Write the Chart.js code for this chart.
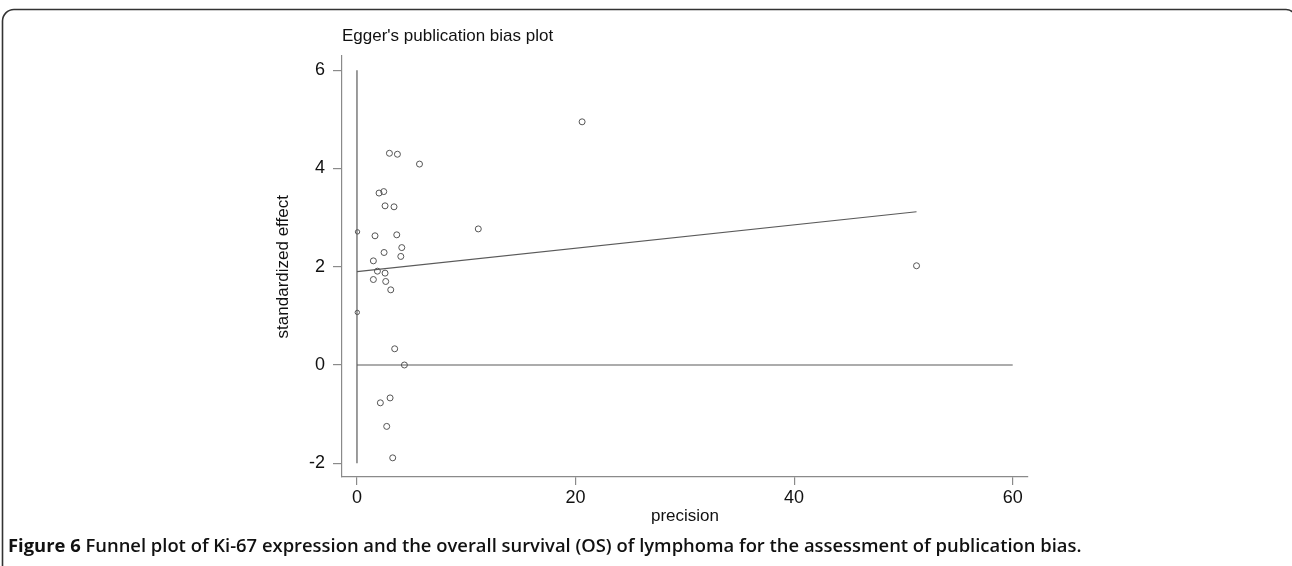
<!DOCTYPE html>
<html>
<head>
  <meta charset="UTF-8">
  <title>Egger's publication bias plot</title>
  <script src="https://cdn.jsdelivr.net/npm/chart.js"></script>
  <style>
    html, body { margin: 0; padding: 0; background: #fff; }
    #wrap { position: relative; width: 1292px; height: 566px; }
  </style>
</head>
<body>
<div id="wrap"><canvas id="eggerChart" width="1292" height="566"></canvas></div>
<script>
    // studies: precision (x) vs standardized effect (y)
    var precision = [2.97, 3.70, 5.72, 2.02, 2.45, 2.57, 3.39, 1.65, 3.64, 4.10,
                     2.48, 4.01, 1.50, 1.87, 2.57, 1.50, 2.63, 3.09, 3.45, 4.34,
                     3.03, 2.14, 2.72, 3.27, 11.1, 20.6, 51.2];
    var stdEffect = [4.31, 4.29, 4.09, 3.50, 3.53, 3.24, 3.22, 2.63, 2.65, 2.39,
                     2.29, 2.21, 2.12, 1.91, 1.87, 1.74, 1.70, 1.53, 0.33, 0.00,
                     -0.67, -0.77, -1.25, -1.89, 2.77, 4.95, 2.02];
    // the two points drawn on the y axis (smaller markers)
    var axisPrecision = [0.05, 0.03];
    var axisEffect = [2.71, 1.07];
    // Egger regression line
    var fitX = [0, 51.2];
    var fitY = [1.90, 3.12];
    // reference lines
    var vlineY = [-2, 6];
    var hlineX = [0, 60];

    var xTicks = [0, 20, 40, 60];
    var yTicks = [-2, 0, 2, 4, 6];

    function pairs(xs, ys) {
        var out = [];
        for (var i = 0; i < xs.length; i++) out.push({x: xs[i], y: ys[i]});
        return out;
    }

    var lineGrey = '#5a5a5a';
    var axisGrey = '#8a8a8a';
    var font = '"Liberation Sans", Arial, sans-serif';

    // frame, titles and caption drawn on the canvas
    var decor = {
        id: 'decor',
        afterDraw: function(chart) {
            var c = chart.ctx;
            c.save();
            c.strokeStyle = '#333';
            c.lineWidth = 1.6;
            c.beginPath();
            c.moveTo(2.5, 566);
            c.lineTo(2.5, 21);
            c.arcTo(2.5, 9.5, 14, 9.5, 11.5);
            c.lineTo(1286, 9.5);
            c.arcTo(1296, 9.5, 1296, 20, 10);
            c.stroke();

            c.fillStyle = '#111';
            c.textBaseline = 'alphabetic';
            c.font = '17px ' + font;
            c.fillText("Egger's publication bias plot", 342, 41);

            // x axis title
            c.font = '17px ' + font;
            c.textAlign = 'center';
            c.textBaseline = 'middle';
            c.fillText('precision', 685, 516);

            // y axis title
            c.save();
            c.translate(283, (chart.scales.y.getPixelForValue(-2) + chart.scales.y.getPixelForValue(6)) / 2);
            c.rotate(-Math.PI / 2);
            c.fillText('standardized effect', 0, 0);
            c.restore();

            c.textAlign = 'left';
            c.textBaseline = 'alphabetic';
            c.font = 'bold 18.4px "Open Sans", "Liberation Sans", sans-serif';
            var lead = 'Figure 6 ';
            c.fillText(lead, 8, 552);
            var w = c.measureText(lead).width;
            c.font = '600 18.4px "Open Sans", "Liberation Sans", sans-serif';
            c.fillText('Funnel plot of Ki-67 expression and the overall survival (OS) of lymphoma for the assessment of publication bias.', 8 + w, 552);
            c.restore();
        }
    };

    var ctx = document.getElementById('eggerChart').getContext('2d');
    new Chart(ctx, {
        type: 'scatter',
        data: {
            datasets: [
                {
                    data: pairs(precision, stdEffect),
                    pointStyle: 'circle',
                    pointRadius: 3,
                    pointBackgroundColor: 'rgba(0,0,0,0)',
                    pointBorderColor: '#555',
                    pointBorderWidth: 1
                },
                {
                    data: pairs(axisPrecision, axisEffect),
                    pointRadius: 2.2,
                    pointBackgroundColor: 'rgba(0,0,0,0)',
                    pointBorderColor: '#555',
                    pointBorderWidth: 1
                },
                {
                    type: 'line',
                    data: pairs(fitX, fitY),
                    borderColor: lineGrey,
                    borderWidth: 1.2,
                    pointRadius: 0,
                    fill: false
                },
                {
                    type: 'line',
                    data: pairs([0, 0], vlineY),
                    borderColor: lineGrey,
                    borderWidth: 1.2,
                    pointRadius: 0,
                    fill: false
                },
                {
                    type: 'line',
                    data: pairs(hlineX, [0, 0]),
                    borderColor: lineGrey,
                    borderWidth: 1.2,
                    pointRadius: 0,
                    fill: false
                }
            ]
        },
        options: {
            responsive: false,
            animation: false,
            layout: { padding: { left: 0, right: 264, top: 56, bottom: 0 } },
            plugins: {
                legend: { display: false },
                tooltip: { enabled: false },
                title: { display: false }
            },
            scales: {
                x: {
                    type: 'linear',
                    min: -1.37,
                    max: 61.4,
                    afterBuildTicks: function(s) { s.ticks = xTicks.map(function(v) { return {value: v}; }); },
                    afterFit: function(s) { s.height = 89; },
                    border: { display: true, color: axisGrey, width: 1.2 },
                    grid: { drawOnChartArea: false, drawTicks: true, tickLength: 8, color: axisGrey, lineWidth: 1.2 },
                    ticks: { color: '#111', font: { family: font, size: 18 }, padding: 2, maxRotation: 0 },
                    title: { display: false }
                },
                y: {
                    type: 'linear',
                    min: -2.28,
                    max: 6.29,
                    afterBuildTicks: function(s) { s.ticks = yTicks.map(function(v) { return {value: v}; }); },
                    afterFit: function(s) { s.width = 342; },
                    border: { display: true, color: axisGrey, width: 1.2 },
                    grid: { drawOnChartArea: false, drawTicks: true, tickLength: 9, color: axisGrey, lineWidth: 1.2 },
                    ticks: { color: '#111', font: { family: font, size: 18 }, padding: 8 },
                    title: { display: false }
                }
            }
        },
        plugins: [decor]
    });
</script>
</body>
</html>
